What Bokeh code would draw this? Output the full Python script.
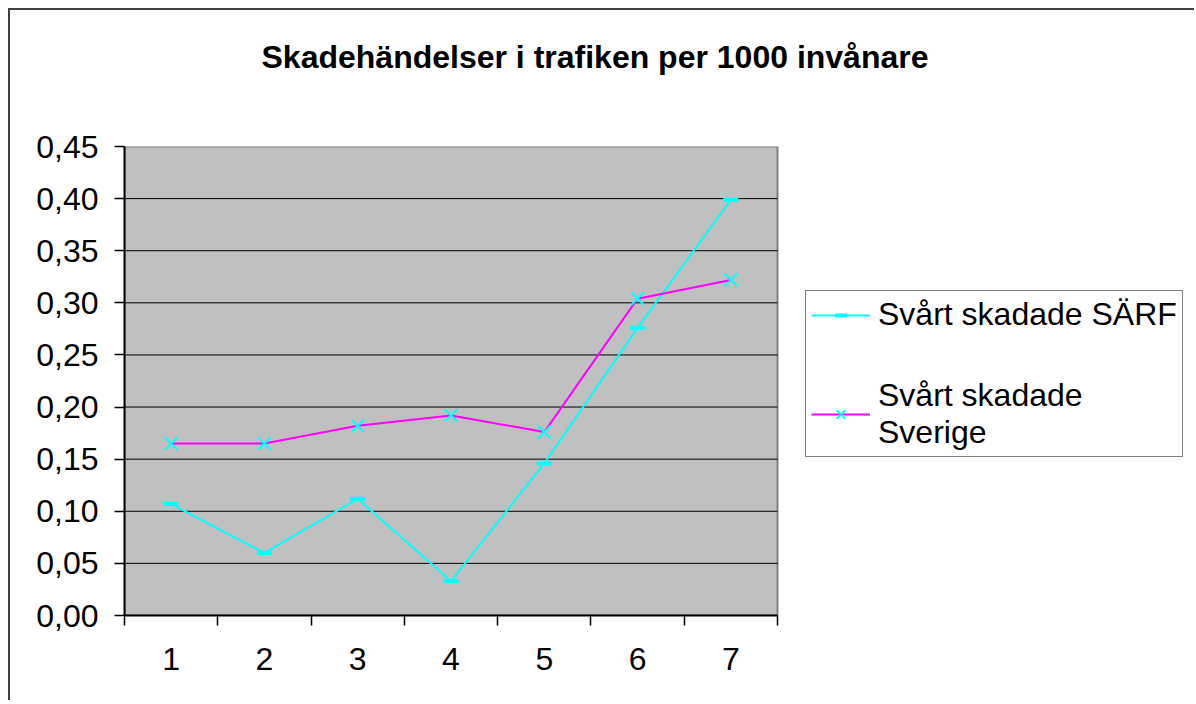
from bokeh.plotting import figure
from bokeh.models import (FixedTicker, CustomJSTickFormatter, Legend, LegendItem,
                          Range1d, Title)
from bokeh.embed import file_html
from bokeh.resources import INLINE

# ---- data ----
categories = ["1", "2", "3", "4", "5", "6", "7"]
sarf = [0.107, 0.060, 0.112, 0.033, 0.146, 0.276, 0.399]
sverige = [0.165, 0.165, 0.182, 0.192, 0.176, 0.304, 0.322]
y_ticks = [0.00, 0.05, 0.10, 0.15, 0.20, 0.25, 0.30, 0.35, 0.40, 0.45]
series_names = ["Svårt skadade SÄRF", "Svårt skadade\nSverige"]
title_text = "Skadehändelser i trafiken per 1000 invånare"

FONT = "Liberation Sans"
CYAN = "#00FFFF"
MAGENTA = "#FF00FF"

n = len(categories)
x = list(range(1, n + 1))
bounds = [i + 0.5 for i in range(0, n + 1)]
x_lo, x_hi = 0.5, n + 0.5

# layout (pixels): canvas, frame left, width of the grey plot area
W, H = 1186, 692
LEFT, AREA_W = 114, 653
frame_w = W - LEFT
x_end = x_lo + (x_hi - x_lo) * frame_w / AREA_W   # frame extends right to hold the legend

p = figure(width=W, height=H, output_backend="svg", toolbar_location=None,
           x_range=Range1d(x_lo, x_end),
           y_range=Range1d(y_ticks[0], y_ticks[-1]),
           min_border_left=LEFT, min_border_right=0,
           min_border_top=136, min_border_bottom=H - 605)

p.styles = {"margin-left": "8px", "margin-top": "8px",
            "border-left": "2px solid #404040", "border-top": "2px solid #404040"}

p.background_fill_color = "white"
p.border_fill_color = "white"
p.outline_line_color = None

# trailing empty lines lift the title text away from the plot area
p.title = Title(text=title_text + "\n\n", align="left", offset=137, text_font=FONT,
                text_font_size="32px", text_font_style="bold", text_color="black",
                standoff=0)

# grey plot area and its grid
p.quad(left=[x_lo], right=[x_hi], bottom=[y_ticks[0]], top=[y_ticks[-1]],
       fill_color="#C0C0C0", line_color="#808080", line_width=2)
grid_y = y_ticks[1:-1]
p.segment(x0=[x_lo] * len(grid_y), x1=[x_hi] * len(grid_y), y0=grid_y, y1=grid_y,
          line_color="black", line_width=1)

# x axis
p.xaxis.bounds = (x_lo, x_hi)
p.xaxis.ticker = FixedTicker(ticks=x, minor_ticks=bounds)
p.xaxis.major_label_overrides = {i: c for i, c in zip(x, categories)}
p.xaxis.major_tick_line_color = None
p.xaxis.minor_tick_line_color = "black"
p.xaxis.minor_tick_line_width = 1.5
p.xaxis.minor_tick_out = 10
p.xaxis.minor_tick_in = 0
p.xaxis.axis_line_color = "black"
p.xaxis.axis_line_width = 2
p.xaxis.major_label_standoff = 22
p.xaxis.major_label_text_font = FONT
p.xaxis.major_label_text_font_size = "32px"
p.xaxis.major_label_text_color = "black"

# y axis
p.yaxis.ticker = FixedTicker(ticks=y_ticks)
p.yaxis.formatter = CustomJSTickFormatter(code="return tick.toFixed(2).replace('.', ',');")
p.yaxis.major_tick_line_color = "black"
p.yaxis.major_tick_line_width = 1.5
p.yaxis.major_tick_out = 10
p.yaxis.major_tick_in = 0
p.yaxis.minor_tick_line_color = None
p.yaxis.axis_line_color = "black"
p.yaxis.axis_line_width = 2
p.yaxis.major_label_standoff = 16
p.yaxis.major_label_text_font = FONT
p.yaxis.major_label_text_font_size = "32px"
p.yaxis.major_label_text_color = "black"

p.xgrid.visible = False
p.ygrid.visible = False

r1 = p.line(x, sarf, line_color=CYAN, line_width=2)
m1 = p.scatter(x, sarf, marker="dash", size=15, line_color=CYAN, line_width=4)
r2 = p.line(x, sverige, line_color=MAGENTA, line_width=2)
m2 = p.scatter(x, sverige, marker="x", size=18, line_color=CYAN, line_width=2)

legend = Legend(items=[LegendItem(label=series_names[0], renderers=[r1, m1]),
                       LegendItem(label=series_names[1], renderers=[r2, m2])],
                location=(681, 158), border_line_color="black", border_line_width=1,
                background_fill_color="white", background_fill_alpha=1,
                label_text_font=FONT, label_text_font_size="32px",
                label_text_color="black", glyph_width=59, glyph_height=30,
                label_standoff=8, padding=5, spacing=44, margin=0)
p.add_layout(legend, "center")

open("out.html", "w").write(file_html(p, INLINE))
